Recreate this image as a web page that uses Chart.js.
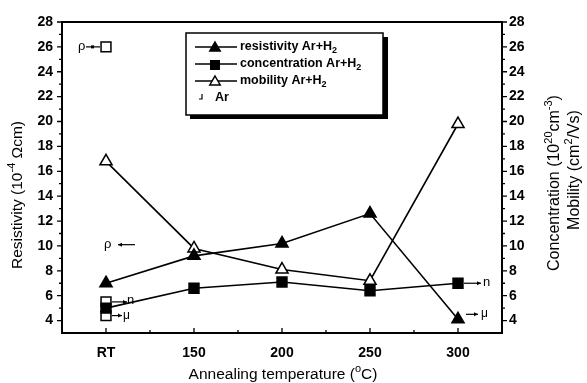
<!DOCTYPE html>
<html lang="en">
<head>
<meta charset="UTF-8">
<title>Resistivity, concentration and mobility vs annealing temperature</title>
<script src="https://cdn.jsdelivr.net/npm/chart.js"></script>
<style>
  html, body { margin: 0; padding: 0; background: #fff; }
</style>
</head>
<body>
<canvas id="chart" width="587" height="383"></canvas>
<script>
// values
const categories = ['RT', '150', '200', '250', '300'];
const resistivityArH2 = [7.0, 9.2, 10.2, 12.6, 4.1];     // 10^-4 Ωcm, left axis
const concentrationArH2 = [5.0, 6.6, 7.1, 6.4, 7.0];     // 10^20 cm^-3, right axis
const mobilityArH2 = [16.8, 9.8, 8.1, 7.2, 19.8];        // cm^2/Vs, right axis
const resistivityAr = [26.0];
const concentrationAr = [5.5];
const mobilityAr = [4.4];
const yTicks = [4, 6, 8, 10, 12, 14, 16, 18, 20, 22, 24, 26, 28];

const FONT = '"Liberation Sans", Arial, sans-serif';

function pts(arr) {
    return arr.map((v, i) => ({ x: i, y: v }));
}

// draws text made of pieces, some raised (sup) or lowered (sub)
function drawRich(ctx, parts, cx, cy, rot, size, weight, align) {
    ctx.save();
    ctx.translate(cx, cy);
    ctx.rotate(rot);
    const small = Math.round(size * 0.68);
    let total = 0;
    const widths = parts.map(p => {
        ctx.font = `${weight} ${p.s ? small : size}px ${FONT}`;
        const w = ctx.measureText(p.t).width;
        total += w;
        return w;
    });
    let xx = align === 'left' ? 0 : -total / 2;
    ctx.textBaseline = 'middle';
    ctx.textAlign = 'left';
    ctx.fillStyle = '#000';
    parts.forEach((p, i) => {
        ctx.font = `${weight} ${p.s ? small : size}px ${FONT}`;
        let dy = 0;
        if (p.s === 'sup') dy = -size * 0.38;
        if (p.s === 'sub') dy = size * 0.3;
        ctx.fillText(p.t, xx, dy);
        xx += widths[i];
    });
    ctx.restore();
}

function marker(ctx, style, x, y, r, filled) {
    ctx.beginPath();
    if (style === 'triangle') {
        ctx.moveTo(x, y - r);
        ctx.lineTo(x + r * 0.866, y + r / 2);
        ctx.lineTo(x - r * 0.866, y + r / 2);
        ctx.closePath();
    } else {
        const h = r * 0.707;
        ctx.rect(x - h, y - h, 2 * h, 2 * h);
    }
    ctx.fillStyle = filled ? '#000' : '#fff';
    ctx.fill();
    ctx.lineWidth = 1.5;
    ctx.strokeStyle = '#000';
    ctx.stroke();
}

function arrow(ctx, x1, y, x2) {
    ctx.beginPath();
    ctx.moveTo(x1, y);
    ctx.lineTo(x2, y);
    ctx.lineWidth = 1.2;
    ctx.stroke();
    const d = x2 > x1 ? -1 : 1;
    ctx.beginPath();
    ctx.moveTo(x2, y);
    ctx.lineTo(x2 + d * 4, y - 2);
    ctx.lineTo(x2 + d * 4, y + 2);
    ctx.closePath();
    ctx.fill();
}

const decorations = {
    id: 'decorations',
    afterDraw(chart) {
        const { ctx, chartArea: a, scales: { x, y, y2 } } = chart;
        ctx.save();
        ctx.strokeStyle = '#000';
        ctx.fillStyle = '#000';

        // top frame line
        ctx.lineWidth = 2;
        ctx.beginPath();
        ctx.moveTo(a.left - 1, a.top);
        ctx.lineTo(a.right + 1, a.top);
        ctx.stroke();

        // tick marks
        ctx.lineWidth = 1.3;
        ctx.beginPath();
        for (let v = 4; v <= 28; v++) {
            const len = v % 2 === 0 ? 5 : 3;
            const py = y.getPixelForValue(v);
            ctx.moveTo(a.left, py); ctx.lineTo(a.left - len, py);
            const py2 = y2.getPixelForValue(v);
            ctx.moveTo(a.right, py2); ctx.lineTo(a.right + len, py2);
        }
        for (let v = 0; v <= 4.5; v += 0.5) {
            const len = Number.isInteger(v) ? 5 : 3;
            const px = x.getPixelForValue(v);
            ctx.moveTo(px, a.bottom); ctx.lineTo(px, a.bottom - len);
        }
        ctx.stroke();

        // axis titles
        drawRich(ctx, [{ t: 'Resistivity (10' }, { t: '-4', s: 'sup' }, { t: ' Ωcm)' }],
            18, 195, -Math.PI / 2, 15.5, 'normal');
        drawRich(ctx, [{ t: 'Concentration (10' }, { t: '20', s: 'sup' }, { t: 'cm' }, { t: '-3', s: 'sup' }, { t: ')' }],
            a.right + 53, 183, -Math.PI / 2, 16, 'normal');
        drawRich(ctx, [{ t: 'Mobility (cm' }, { t: '2', s: 'sup' }, { t: '/Vs)' }],
            a.right + 73, 170, -Math.PI / 2, 16, 'normal');
        drawRich(ctx, [{ t: 'Annealing temperature (' }, { t: 'o', s: 'sup' }, { t: 'C)' }],
            283, 375, 0, 15.5, 'normal');

        // legend box with shadow
        const lx = 186, ly = 33, lw = 197, lh = 82;
        ctx.fillRect(lx + 4, ly + lh, lw, 4);
        ctx.fillRect(lx + lw, ly + 4, 5, lh);
        ctx.fillStyle = '#fff';
        ctx.fillRect(lx, ly, lw, lh);
        ctx.lineWidth = 1.5;
        ctx.strokeRect(lx, ly, lw, lh);
        const rows = [
            { style: 'triangle', filled: true, name: 'resistivity Ar+H' },
            { style: 'rect', filled: true, name: 'concentration Ar+H' },
            { style: 'triangle', filled: false, name: 'mobility Ar+H' }
        ];
        rows.forEach((r, i) => {
            const ry = ly + 14 + i * 17;
            ctx.beginPath();
            ctx.moveTo(lx + 9, ry); ctx.lineTo(lx + 51, ry);
            ctx.lineWidth = 1.5;
            ctx.stroke();
            marker(ctx, r.style, lx + 29, ry + 1, 6, r.filled);
            drawRich(ctx, [{ t: r.name }, { t: '2', s: 'sub' }], lx + 54, ry, 0, 12.5, 'bold', 'left');
        });
        const ay = ly + 14 + 3 * 17;
        ctx.beginPath();
        ctx.lineWidth = 1.2;
        ctx.moveTo(lx + 16, ay - 4); ctx.lineTo(lx + 16, ay + 1); ctx.lineTo(lx + 13, ay + 1);
        ctx.stroke();
        drawRich(ctx, [{ t: 'Ar' }], lx + 29, ay, 0, 12.5, 'bold', 'left');

        // annotations next to the points
        ctx.fillStyle = '#000';
        ctx.strokeStyle = '#000';
        const x0 = x.getPixelForValue(0);
        const x4 = x.getPixelForValue(4);
        const pRho = y.getPixelForValue(resistivityAr[0]);
        drawRich(ctx, [{ t: 'ρ' }], x0 - 28, pRho, 0, 13, 'normal', 'left');
        ctx.beginPath();
        ctx.lineWidth = 1.2;
        ctx.moveTo(x0 - 20, pRho); ctx.lineTo(x0 - 6, pRho);
        ctx.stroke();
        ctx.fillRect(x0 - 15, pRho - 1.5, 3, 3);

        const pMid = y.getPixelForValue(10.1);
        drawRich(ctx, [{ t: 'ρ' }], x0 - 2, pMid, 0, 13, 'normal', 'left');
        arrow(ctx, x0 + 29, pMid, x0 + 12);

        const pN = y2.getPixelForValue(concentrationAr[0]);
        arrow(ctx, x0 + 6, pN, x0 + 21);
        drawRich(ctx, [{ t: 'n' }], x0 + 21, pN - 1, 0, 13, 'normal', 'left');
        const pM = y2.getPixelForValue(mobilityAr[0]);
        arrow(ctx, x0 + 6, pM, x0 + 16);
        drawRich(ctx, [{ t: 'μ' }], x0 + 17, pM, 0, 12, 'normal', 'left');

        const pN4 = y2.getPixelForValue(concentrationArH2[4]);
        arrow(ctx, x4 + 6, pN4, x4 + 23);
        drawRich(ctx, [{ t: 'n' }], x4 + 25, pN4 - 1, 0, 13, 'normal', 'left');
        const pM4 = y2.getPixelForValue(resistivityArH2[4]) - 6;
        arrow(ctx, x4 + 8, pM4 + 1, x4 + 20);
        drawRich(ctx, [{ t: 'μ' }], x4 + 23, pM4, 0, 12, 'normal', 'left');

        ctx.restore();
    }
};

const tickFont = { family: FONT, size: 14, weight: 'bold' };
const line = { borderColor: '#000', borderWidth: 1.6, pointRadius: 7, pointBorderWidth: 1.5, pointBorderColor: '#000' };

new Chart(document.getElementById('chart'), {
    type: 'scatter',
    data: {
        datasets: [
            { ...line, label: 'resistivity Ar+H2', data: pts(resistivityArH2), yAxisID: 'y', showLine: true,
              pointStyle: 'triangle', pointBackgroundColor: '#000' },
            { ...line, label: 'concentration Ar+H2', data: pts(concentrationArH2), yAxisID: 'y2', showLine: true,
              pointStyle: 'rect', pointBackgroundColor: '#000' },
            { ...line, label: 'mobility Ar+H2', data: pts(mobilityArH2), yAxisID: 'y2', showLine: true,
              pointStyle: 'triangle', pointBackgroundColor: '#fff' },
            { ...line, label: 'resistivity Ar', data: pts(resistivityAr), yAxisID: 'y', showLine: false,
              pointStyle: 'rect', pointBackgroundColor: '#fff' },
            { ...line, label: 'concentration Ar', data: pts(concentrationAr), yAxisID: 'y2', showLine: false,
              pointStyle: 'rect', pointBackgroundColor: '#fff' },
            { ...line, label: 'mobility Ar', data: pts(mobilityAr), yAxisID: 'y2', showLine: false,
              pointStyle: 'rect', pointBackgroundColor: '#fff' }
        ]
    },
    options: {
        responsive: false,
        animation: false,
        layout: { padding: { top: 22 } },
        plugins: { legend: { display: false }, tooltip: { enabled: false } },
        scales: {
            x: {
                type: 'linear', min: -0.5, max: 4.5,
                grid: { display: false, drawTicks: false },
                border: { display: true, color: '#000', width: 2 },
                afterBuildTicks: s => { s.ticks = categories.map((c, i) => ({ value: i })); },
                afterFit: s => { s.height = 50; },
                ticks: { callback: v => categories[v] ?? '', padding: 12, color: '#000', font: tickFont,
                         maxRotation: 0, autoSkip: false }
            },
            y: {
                position: 'left', min: 3, max: 28,
                grid: { display: false, drawTicks: false },
                border: { display: true, color: '#000', width: 2 },
                afterBuildTicks: s => { s.ticks = yTicks.map(v => ({ value: v })); },
                afterFit: s => { s.width = 62; },
                ticks: { padding: 9, color: '#000', font: tickFont }
            },
            y2: {
                position: 'right', min: 3, max: 28,
                grid: { display: false, drawTicks: false },
                border: { display: true, color: '#000', width: 2 },
                afterBuildTicks: s => { s.ticks = yTicks.map(v => ({ value: v })); },
                afterFit: s => { s.width = 85; },
                ticks: { padding: 7, color: '#000', font: tickFont }
            }
        }
    },
    plugins: [decorations]
});
</script>
</body>
</html>
